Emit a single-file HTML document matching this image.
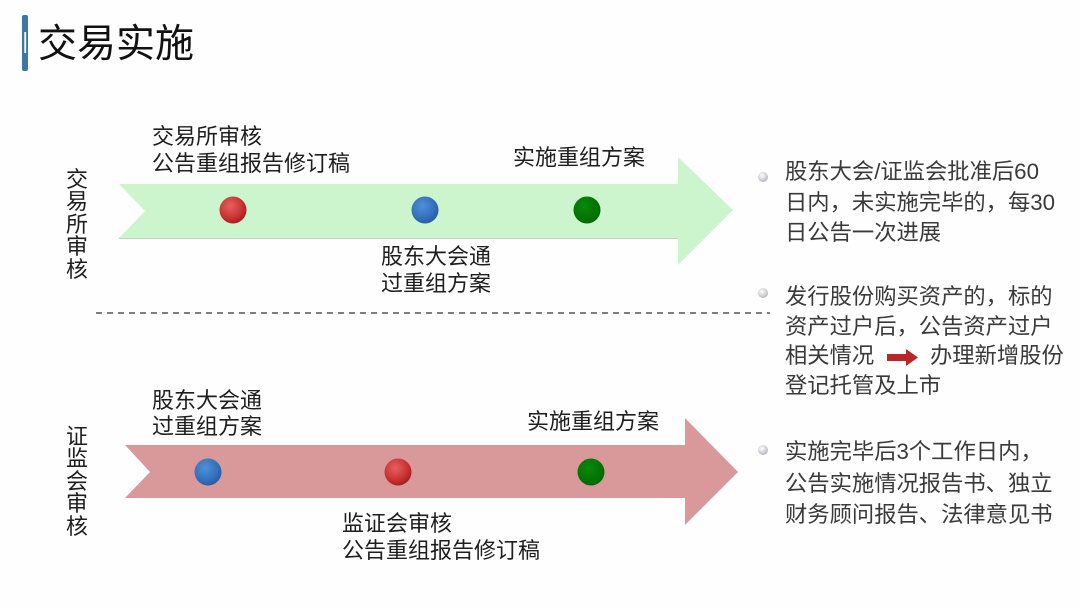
<!DOCTYPE html>
<html><head><meta charset="utf-8">
<style>
html,body{margin:0;padding:0;}
body{width:1080px;height:608px;background:#fefefe;position:relative;overflow:hidden;font-family:"Liberation Sans","Noto Sans CJK SC",sans-serif;}
.t{position:absolute;white-space:nowrap;font-size:22px;color:#1e1e1e;line-height:27px;}
.r{position:absolute;white-space:nowrap;font-size:22.3px;color:#3a3a3a;}
.v{position:absolute;font-size:22px;color:#1e1e1e;line-height:22.4px;width:24px;text-align:center;}
</style></head>
<body>
<svg width="1080" height="608" style="position:absolute;left:0;top:0">
  <defs>
    <radialGradient id="gr" cx="40%" cy="35%" r="65%">
      <stop offset="0" stop-color="#e86060"/><stop offset="0.7" stop-color="#c83232"/><stop offset="1" stop-color="#a82020"/>
    </radialGradient>
    <radialGradient id="gb" cx="40%" cy="35%" r="65%">
      <stop offset="0" stop-color="#5090d8"/><stop offset="0.7" stop-color="#3470bc"/><stop offset="1" stop-color="#2a5ea0"/>
    </radialGradient>
    <radialGradient id="gg" cx="40%" cy="35%" r="65%">
      <stop offset="0" stop-color="#0a8a0a"/><stop offset="1" stop-color="#006a00"/>
    </radialGradient>
    <radialGradient id="gw" cx="40%" cy="35%" r="65%">
      <stop offset="0" stop-color="#ffffff"/><stop offset="1" stop-color="#b8b8c0"/>
    </radialGradient>
  </defs>
  <!-- title bar -->
  <rect x="22" y="15" width="6" height="56" rx="2" fill="#3b78a8"/>
  <rect x="24.3" y="32" width="1.8" height="21" fill="#ffffff"/>
  <!-- top arrow -->
  <polygon points="119,184 678,184 678,157 733,210 678,265 678,238 119,238 145,211" fill="#cdf5cd"/>
  <line x1="119" y1="238.5" x2="678" y2="238.5" stroke="#b8d8b8" stroke-width="1"/>
  <circle cx="233" cy="210" r="13.5" fill="url(#gr)"/>
  <circle cx="425" cy="210" r="13.5" fill="url(#gb)"/>
  <circle cx="587" cy="210" r="13.5" fill="url(#gg)"/>
  <!-- dashed line -->
  <line x1="96" y1="313" x2="770" y2="313" stroke="#555" stroke-width="1.5" stroke-dasharray="6,5"/>
  <!-- bottom arrow -->
  <polygon points="125,445 685,445 685,418 738,472 685,525 685,498 125,498 150,472" fill="#d9989a"/>
  <circle cx="208" cy="472" r="13.5" fill="url(#gb)"/>
  <circle cx="398" cy="472" r="13.5" fill="url(#gr)"/>
  <circle cx="591" cy="472" r="13.5" fill="url(#gg)"/>
  <!-- bullets -->
  <circle cx="763" cy="177" r="5" fill="url(#gw)"/>
  <circle cx="763" cy="293" r="5" fill="url(#gw)"/>
  <circle cx="763" cy="450" r="5" fill="url(#gw)"/>
  <!-- red arrow -->
  <polygon points="887,354 906,354 906,349 918,357.5 906,366 906,361 887,361" fill="#b82828"/>
</svg>

<div class="t" style="left:38px;top:21px;font-size:39px;line-height:47px;color:#111;">交易实施</div>

<div class="v" style="left:65px;top:169px;">交<br>易<br>所<br>审<br>核</div>
<div class="v" style="left:65px;top:426px;">证<br>监<br>会<br>审<br>核</div>

<div class="t" style="left:152px;top:123px;">交易所审核<br>公告重组报告修订稿</div>
<div class="t" style="left:513px;top:144px;">实施重组方案</div>
<div class="t" style="left:381px;top:243px;">股东大会通<br>过重组方案</div>

<div class="t" style="left:152px;top:388px;line-height:26px;">股东大会通<br>过重组方案</div>
<div class="t" style="left:527px;top:408px;">实施重组方案</div>
<div class="t" style="left:342px;top:510px;">监证会审核<br>公告重组报告修订稿</div>

<div class="r" style="left:785px;top:157px;line-height:30.5px;">股东大会/证监会批准后60<br>日内，未实施完毕的，每30<br>日公告一次进展</div>
<div class="r" style="left:785px;top:282px;line-height:29.7px;">发行股份购买资产的，标的<br>资产过户后，公告资产过户<br>相关情况<br>登记托管及上市</div>
<div class="r" style="left:930px;top:341.4px;line-height:29.7px;">办理新增股份</div>
<div class="r" style="left:785px;top:436px;line-height:31.5px;">实施完毕后3个工作日内，<br>公告实施情况报告书、独立<br>财务顾问报告、法律意见书</div>
</body></html>
